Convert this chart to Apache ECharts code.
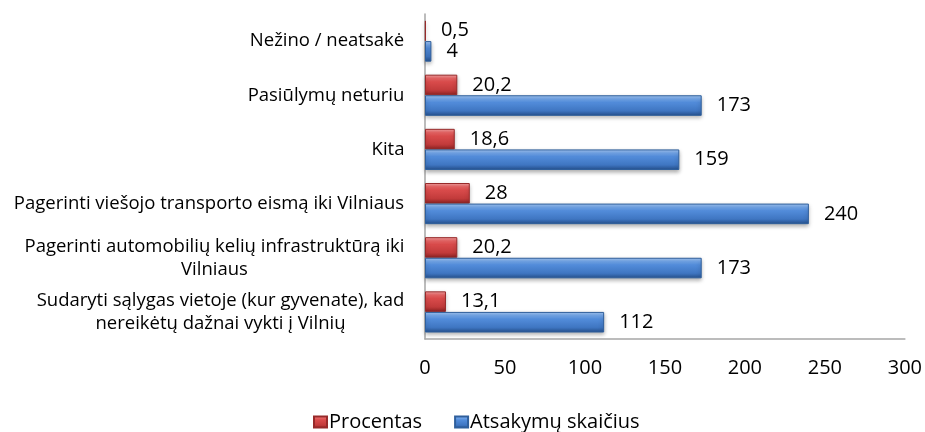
<!DOCTYPE html>
<html>
<head>
<meta charset="utf-8">
<script src="https://cdn.jsdelivr.net/npm/echarts@6/dist/echarts.min.js"></script>
<style>
  html, body { margin: 0; padding: 0; background: #fff; }
  #chart { width: 925px; height: 432px; }
</style>
</head>
<body>
<div id="chart"></div>
<script>
// Categories listed bottom to top along the vertical axis
const categories = [
  'Sudaryti sąlygas vietoje (kur gyvenate), kad\nnereikėtų dažnai vykti į Vilnių',
  'Pagerinti automobilių kelių infrastruktūrą iki\nVilniaus',
  'Pagerinti viešojo transporto eismą iki Vilniaus',
  'Kita',
  'Pasiūlymų neturiu',
  'Nežino / neatsakė'
];
const procentas = [13.1, 20.2, 28, 18.6, 20.2, 0.5];
const atsakymai = [112, 173, 240, 159, 173, 4];
const xTicks = [0, 50, 100, 150, 200, 250, 300];

const FONT = '"Open Sans", sans-serif';
const CAT_SIZE = 18.5;

// Measure each label's widest line so multi-line labels can be centred
// inside their own block while the block stays right-aligned to the axis.
const ctx = document.createElement('canvas').getContext('2d');
ctx.font = CAT_SIZE + 'px "Open Sans"';
const rich = {};
categories.forEach((c, i) => {
  const w = Math.max(...c.split('\n').map(l => ctx.measureText(l).width));
  rich['c' + i] = {
    width: Math.ceil(w) + 1, align: 'center',
    fontSize: CAT_SIZE, fontFamily: FONT, color: '#000', lineHeight: 23
  };
});

function grad(stops) {
  return new echarts.graphic.LinearGradient(0, 0, 0, 1,
    stops.map(([o, c]) => ({ offset: o, color: c })));
}
const redFill = grad([[0, '#f6a6a6'], [0.18, '#ea6565'], [0.35, '#d94b4b'], [0.75, '#c23b3b'], [1, '#8e2323']]);
const blueFill = grad([[0, '#a6c9f6'], [0.18, '#72a6ea'], [0.35, '#528cda'], [0.75, '#3f76c2'], [1, '#25508c']]);

const fmt = v => String(v).replace('.', ',');
const valueLabel = {
  show: true, position: 'right', distance: 15,
  fontSize: 20, color: '#000', fontFamily: FONT,
  formatter: p => fmt(p.value)
};

const chart = echarts.init(document.getElementById('chart'));
chart.setOption({
  animation: false,
  textStyle: { fontFamily: FONT },
  grid: { left: 425, right: 19, top: 14, bottom: 93, containLabel: false },
  xAxis: {
    type: 'value', min: 0, max: 300, interval: 50,
    axisLine: { show: true, lineStyle: { color: '#a6a6a6', width: 1.5 } },
    axisTick: { show: false },
    splitLine: { show: false },
    axisLabel: {
      margin: 19, fontSize: 20, color: '#000', fontFamily: FONT,
      formatter: v => xTicks.includes(v) ? String(v) : ''
    }
  },
  yAxis: {
    type: 'category', data: categories,
    axisLine: { show: true, lineStyle: { color: '#a6a6a6', width: 1.5 } },
    axisTick: { show: false },
    axisLabel: {
      margin: 20,
      formatter: (val, idx) => val.split('\n').map(l => '{c' + idx + '|' + l + '}').join('\n'),
      rich: rich
    }
  },
  legend: {
    top: 412, left: 313, padding: 0,
    data: ['Procentas', 'Atsakymų skaičius'],
    icon: 'rect', itemWidth: 13, itemHeight: 11, itemGap: 32,
    textStyle: { fontSize: 20, color: '#000', fontFamily: FONT, padding: [0, 0, 0, -3] }
  },
  series: [
    {
      name: 'Procentas', type: 'bar', data: procentas,
      barGap: '0%', barCategoryGap: '24%',
      itemStyle: {
        color: redFill, borderColor: '#972a2a', borderWidth: 1,
        shadowColor: 'rgba(0,0,0,0.3)', shadowBlur: 4, shadowOffsetY: 2
      },
      label: valueLabel
    },
    {
      name: 'Atsakymų skaičius', type: 'bar', data: atsakymai,
      barGap: '0%', barCategoryGap: '24%',
      itemStyle: {
        color: blueFill, borderColor: '#2f5f9c', borderWidth: 1,
        shadowColor: 'rgba(0,0,0,0.3)', shadowBlur: 4, shadowOffsetY: 2
      },
      label: valueLabel
    }
  ]
});
</script>
</body>
</html>
